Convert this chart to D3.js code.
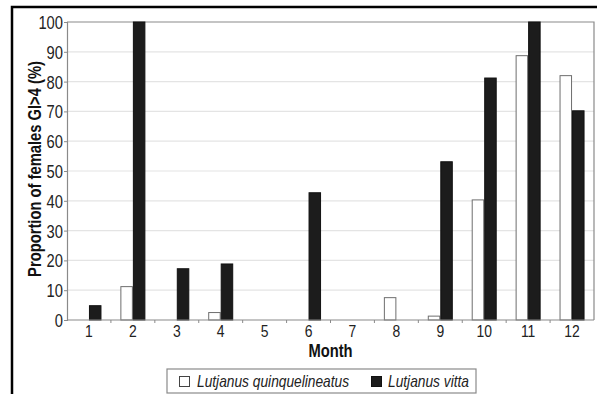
<!DOCTYPE html>
<html>
<head>
<meta charset="utf-8">
<script src="https://cdn.jsdelivr.net/npm/d3@7"></script>
<style>
  html, body { margin: 0; padding: 0; background: #fff; }
  svg { display: block; }
  text { font-family: "Liberation Sans", Arial, sans-serif; }
</style>
</head>
<body>
<svg id="chart" width="597" height="394"></svg>
<script>
// Monthly proportion of mature females (gonad index > 4), two snapper species
const months = ["1", "2", "3", "4", "5", "6", "7", "8", "9", "10", "11", "12"];
const seriesNames = ["Lutjanus quinquelineatus", "Lutjanus vitta"];
const quinquelineatus = [0, 11.2, 0, 2.5, 0, 0, 0, 7.5, 1.3, 40.3, 88.7, 82];
const vitta = [4.8, 100, 17.2, 18.8, 0, 42.7, 0, 0, 53.1, 81.2, 100, 70.2];
const yTicks = [0, 10, 20, 30, 40, 50, 60, 70, 80, 90, 100];

const fills = { "Lutjanus quinquelineatus": "#ffffff", "Lutjanus vitta": "#1c1c1c" };
const strokes = { "Lutjanus quinquelineatus": "#6e6e6e", "Lutjanus vitta": "#111111" };

// horizontal squeeze giving a narrow-face look
const NARROW = 0.82;

const svg = d3.select("#chart");
const W = 597, H = 394;
const plot = { left: 67, top: 22, right: 594, bottom: 320 };

// narrow text placed at (px, py), optionally rotated
function narrowText(sel, px, py, str, opts = {}) {
  const rot = opts.rotate ? ` rotate(${opts.rotate})` : "";
  const sx = opts.squeeze || NARROW;
  return sel.append("text")
    .attr("transform", `translate(${px},${py})${rot} scale(${sx},1)`)
    .attr("text-anchor", opts.anchor || "start")
    .attr("font-size", opts.size || 17)
    .attr("font-weight", opts.weight || "normal")
    .attr("font-style", opts.style || "normal")
    .attr("fill", opts.fill || "#222")
    .text(str);
}

// outer frame (extends past the right and bottom edges)
svg.append("rect")
  .attr("x", 12).attr("y", 7)
  .attr("width", W + 20).attr("height", H + 20)
  .attr("fill", "#fff").attr("stroke", "#000").attr("stroke-width", 2.5);

const x = d3.scaleBand().domain(months).range([plot.left, plot.right]).paddingInner(0).paddingOuter(0);
const x1 = d3.scaleBand().domain(seriesNames).range([0, x.bandwidth()]).paddingInner(0).paddingOuter(0.756);
const y = d3.scaleLinear().domain([0, 100]).range([plot.bottom, plot.top]);

// gridlines
svg.append("g")
  .selectAll("line").data(yTicks.filter(t => t > 0 && t < 100)).join("line")
  .attr("x1", plot.left).attr("x2", plot.right)
  .attr("y1", d => y(d)).attr("y2", d => y(d))
  .attr("stroke", "#e4e4e4").attr("stroke-width", 1.2);

// plot border (top / right)
svg.append("path")
  .attr("d", `M${plot.left},${plot.top}H${plot.right}V${plot.bottom}`)
  .attr("fill", "none").attr("stroke", "#8a8a8a").attr("stroke-width", 1.2);

// bars
const rows = months.map((m, i) => ({ month: m, values: [
  { name: seriesNames[0], v: quinquelineatus[i] },
  { name: seriesNames[1], v: vitta[i] }
]}));

svg.append("g").selectAll("g").data(rows).join("g")
  .attr("transform", d => `translate(${x(d.month)},0)`)
  .selectAll("rect").data(d => d.values.filter(s => s.v > 0)).join("rect")
  .attr("x", d => x1(d.name) + 0.5)
  .attr("width", x1.bandwidth() - 1)
  .attr("y", d => y(d.v))
  .attr("height", d => y(0) - y(d.v))
  .attr("fill", d => fills[d.name])
  .attr("stroke", d => strokes[d.name])
  .attr("stroke-width", 1);

// y axis
const yAxis = d3.axisLeft(y).tickValues(yTicks).tickSize(3).tickPadding(3);
const gy = svg.append("g").attr("transform", `translate(${plot.left},0)`).call(yAxis);
gy.select(".domain").attr("stroke", "#8a8a8a").attr("stroke-width", 1.2);
gy.selectAll(".tick line").attr("stroke", "#8a8a8a");
gy.selectAll(".tick text")
  .attr("x", null).attr("dy", null)
  .attr("transform", `translate(-4,6.5) scale(${NARROW},1)`)
  .attr("font-family", null)
  .attr("font-size", 18).attr("fill", "#222");

// x axis: labels centred in each band, ticks on the band boundaries
const gx = svg.append("g").attr("transform", `translate(0,${plot.bottom})`);
gx.append("line").attr("x1", plot.left).attr("x2", plot.right)
  .attr("stroke", "#8a8a8a").attr("stroke-width", 1.2);
gx.selectAll("line.tk").data(months.slice(1)).join("line").attr("class", "tk")
  .attr("x1", d => x(d)).attr("x2", d => x(d)).attr("y1", 0).attr("y2", 3)
  .attr("stroke", "#8a8a8a");
months.forEach(m => narrowText(gx, x(m) + x.bandwidth() / 2, 17, m, { anchor: "middle", size: 17 }));

// axis titles
narrowText(svg, (plot.left + plot.right) / 2, 357, "Month",
  { anchor: "middle", size: 18, weight: "bold", fill: "#111" });
narrowText(svg, 41, (plot.top + plot.bottom) / 2 - 2, "Proportion of females GI>4 (%)",
  { anchor: "middle", size: 18, weight: "bold", fill: "#111", rotate: -90 });

// legend
const lg = svg.append("g").attr("transform", "translate(167,369)");
lg.append("rect").attr("width", 309).attr("height", 24)
  .attr("fill", "#fff").attr("stroke", "#8a8a8a").attr("stroke-width", 1.2);
const items = [
  { name: seriesNames[0], sx: 12.5, tx: 30 },
  { name: seriesNames[1], sx: 204.5, tx: 221 }
];
items.forEach(it => {
  lg.append("rect").attr("x", it.sx).attr("y", 7.5).attr("width", 10).attr("height", 10)
    .attr("fill", fills[it.name]).attr("stroke", it.name === seriesNames[0] ? "#444" : "#111");
  narrowText(lg, it.tx, 18, it.name, { size: 16, style: "italic", squeeze: 0.86 });
});
</script>
</body>
</html>
